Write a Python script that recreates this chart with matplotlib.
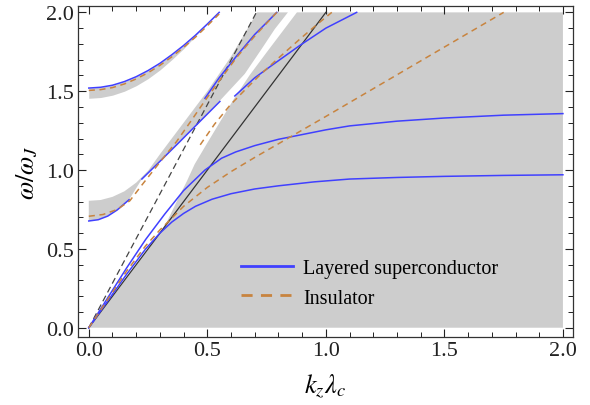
import numpy as np
import matplotlib
matplotlib.use("Agg")
import matplotlib.pyplot as plt
from matplotlib.ticker import MultipleLocator, FormatStrFormatter

plt.rcParams['font.family'] = ['Liberation Serif', 'DejaVu Serif']
plt.rcParams['mathtext.fontset'] = 'stix'

# ---- band edges (gray allowed regions) ----
top_k = [0, 0.05, 0.1, 0.15, 0.2, 0.25, 0.3, 0.35, 0.4, 0.45, 0.5, 0.55]
top_blue = [1.520, 1.525, 1.538, 1.561, 1.592, 1.631, 1.677, 1.731, 1.790, 1.855, 1.926, 2.0]
top_orange = [1.505, 1.51, 1.523, 1.546, 1.578, 1.617, 1.664, 1.718, 1.778, 1.843, 1.915, 1.99]
top_gray_lo = [1.455, 1.46, 1.475, 1.50, 1.535, 1.58, 1.635, 1.70, 1.77, 1.85, 1.925, 2.0]

band_upper_k = [0, 0.05, 0.1, 0.15, 0.2, 0.25, 0.3, 0.4, 0.5, 0.6, 0.71]
band_upper_w = [0.805, 0.81, 0.83, 0.865, 0.92, 0.995, 1.10, 1.30, 1.50, 1.72, 2.0]
gap_left_k = [0.84, 0.785, 0.73, 0.658, 0.553]
gap_left_w = [2.0, 1.895, 1.77, 1.61, 1.44]

gap_right_k = [0, 0.131, 0.257, 0.329, 0.376, 0.414, 0.447, 0.502, 0.561, 0.612, 0.679, 0.755, 0.819, 0.878]
gap_right_w = [0, 0.257, 0.511, 0.670, 0.816, 0.930, 1.038, 1.177, 1.324, 1.451, 1.603, 1.756, 1.883, 2.0]

# ---- layered superconductor modes ----
low_k = [0, 0.04, 0.08, 0.12, 0.17]
low_w = [0.677, 0.685, 0.708, 0.747, 0.812]
a_k = [0.224, 0.3, 0.384, 0.47, 0.553]
a_w = [0.943, 1.055, 1.18, 1.31, 1.435]
b_k = [0.49, 0.55, 0.624, 0.7, 0.793]
b_w = [1.455, 1.585, 1.724, 1.86, 2.0]
c_k = [0.616, 0.7, 0.764, 0.89, 1.0, 1.13]
c_w = [1.47, 1.585, 1.655, 1.79, 1.9, 2.0]
L1_k = [0, 0.08, 0.16, 0.24, 0.3, 0.35, 0.4, 0.45, 0.52, 0.6, 0.7, 0.8, 0.95, 1.1, 1.3, 1.5, 1.75, 2.0]
L1_w = [0, 0.17, 0.34, 0.5, 0.6, 0.67, 0.725, 0.77, 0.815, 0.85, 0.88, 0.9, 0.925, 0.943, 0.953, 0.96, 0.966, 0.97]
L2_k = [0, 0.08, 0.16, 0.24, 0.32, 0.4, 0.49, 0.56, 0.62, 0.7, 0.8, 0.9, 1.0, 1.1, 1.3, 1.5, 1.75, 2.0]
L2_w = [0, 0.19, 0.38, 0.56, 0.72, 0.87, 1.0, 1.075, 1.115, 1.155, 1.195, 1.225, 1.255, 1.28, 1.31, 1.33, 1.348, 1.358]

# ---- insulator modes ----
ol_k = [0, 0.06, 0.12, 0.173, 0.224, 0.3, 0.37, 0.426, 0.49, 0.56, 0.624, 0.7, 0.793]
ol_w = [0.707, 0.718, 0.75, 0.805, 0.905, 1.05, 1.18, 1.3, 1.44, 1.585, 1.715, 1.85, 2.0]
orm_k = [0.47, 0.53, 0.595, 0.66, 0.72, 0.8, 0.89, 0.96, 1.025]
orm_w = [1.16, 1.29, 1.41, 1.51, 1.6, 1.71, 1.83, 1.92, 2.0]
o2_k = [0, 0.08, 0.16, 0.24, 0.3, 0.4, 0.5, 0.6, 0.7, 0.85, 1.0, 1.25, 1.5, 1.75]
o2_w = [0, 0.18, 0.36, 0.52, 0.62, 0.77, 0.89, 0.99, 1.08, 1.21, 1.34, 1.56, 1.78, 2.0]

# light lines
solid_k = [0, 1.0]
solid_w = [0, 2.0]
dash_k = [0, 0.707]
dash_w = [0, 2.0]

gray = '#cdcdcd'
blue = '#4040ff'
orange = '#c8843f'

fig = plt.figure(figsize=(5.9, 4.06), dpi=100)
ax = fig.add_axes([0.132, 0.167, 0.839, 0.816])

ax.fill_between(top_k, top_gray_lo, top_blue, color=gray, lw=0, zorder=1)
bx = band_upper_k + gap_left_k + a_k[::-1][1:] + low_k[::-1]
by = band_upper_w + gap_left_w + a_w[::-1][1:] + low_w[::-1]
ax.fill(bx, by, color=gray, lw=0, zorder=1)
gx = gap_right_k + [2.0, 2.0]
gy = gap_right_w + [2.0, 0.0]
ax.fill(gx, gy, color=gray, lw=0, zorder=1)

ax.plot(solid_k, solid_w, color='#333333', lw=0.9, zorder=2)
ax.plot(dash_k, dash_w, color='#444444', lw=0.9, dashes=(5, 3), zorder=2)

lw = 1.1
for k, w in [(top_k, top_blue), (low_k, low_w), (a_k, a_w), (b_k, b_w), (c_k, c_w), (L1_k, L1_w)]:
    ax.plot(k, w, color=blue, lw=lw, zorder=3)
ax.plot(L2_k, L2_w, color=blue, lw=lw, zorder=3, label='Layered superconductor')
for k, w in [(top_k, top_orange), (ol_k, ol_w), (orm_k, orm_w)]:
    ax.plot(k, w, color=orange, lw=lw, dashes=(4, 3), zorder=4)
ax.plot(o2_k, o2_w, color=orange, lw=lw, dashes=(4, 3), zorder=4, label='Insulator')

ax.set_xlim(-0.046, 2.042)
ax.set_ylim(-0.06, 2.041)
ax.xaxis.set_major_locator(MultipleLocator(0.5))
ax.xaxis.set_minor_locator(MultipleLocator(0.1))
ax.yaxis.set_major_locator(MultipleLocator(0.5))
ax.yaxis.set_minor_locator(MultipleLocator(0.1))
ax.xaxis.set_major_formatter(FormatStrFormatter('%.1f'))
ax.yaxis.set_major_formatter(FormatStrFormatter('%.1f'))
ax.tick_params(which='both', direction='in', top=True, right=True, labelsize=16, colors='#222222')
ax.tick_params(which='major', length=6, width=0.8, pad=3)
ax.tick_params(which='minor', length=3.5, width=0.7)
for s in ax.spines.values():
    s.set_linewidth(0.9)
    s.set_color('#333333')
    s.set_zorder(6)

ax.set_xlabel(r'$k_z\lambda_c$', fontsize=19, labelpad=8)
ax.set_ylabel(r'$\omega/\omega_J$', fontsize=19, labelpad=4)

leg = ax.legend(loc='upper left', bbox_to_anchor=(0.292, 0.29), frameon=False,
                fontsize=14.5, handlelength=2.6, handletextpad=0.5, labelspacing=0.5)
for h in leg.get_lines():
    h.set_linewidth(2.0)

fig.savefig('out.png', dpi=100)
